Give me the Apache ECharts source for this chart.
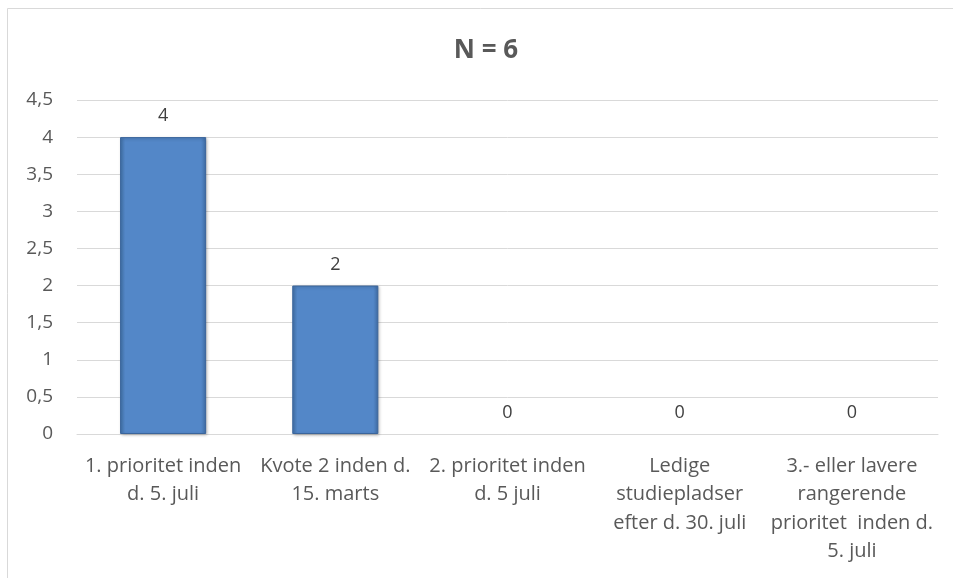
<!DOCTYPE html>
<html>
<head>
<meta charset="utf-8">
<script src="https://cdn.jsdelivr.net/npm/echarts@6/dist/echarts.min.js"></script>
<style>
html,body{margin:0;padding:0;background:#fff;}
#c{width:953px;height:578px;}
</style>
</head>
<body>
<div id="c"></div>
<script>
const categories = [
  "1. prioritet inden\nd. 5. juli",
  "Kvote 2 inden d.\n15. marts",
  "2. prioritet inden\nd. 5 juli",
  "Ledige\nstudiepladser\nefter d. 30. juli",
  "3.- eller lavere\nrangerende\nprioritet  inden d.\n5. juli"
];
const values = [4, 2, 0, 0, 0];
const titleText = "N = 6";
const yMin = 0, yMax = 4.5, yStep = 0.5;

const chart = echarts.init(document.getElementById('c'), null, {renderer: 'canvas'});
const font = '"Open Sans", "Noto Sans", sans-serif';
const seriesData = values.map(v => v === 0
  ? {value: v, itemStyle: {borderWidth: 0, shadowBlur: 0, shadowOffsetX: 0, shadowOffsetY: 0}}
  : v);
chart.setOption({
  animation: false,
  backgroundColor: '#fff',
  graphic: [{
    type: 'rect',
    shape: {x: 7.5, y: 8.5, width: 960, height: 600},
    style: {fill: 'none', stroke: '#d9d9d9', lineWidth: 1},
    silent: true
  }],
  title: {
    text: titleText,
    left: 481, top: 33, textAlign: 'center',
    textStyle: {fontFamily: font, fontSize: 26, fontWeight: 'bold', color: '#595959'}
  },
  grid: {left: 77, right: 15, top: 100, bottom: 144, containLabel: false},
  xAxis: {
    type: 'category',
    data: categories,
    axisLine: {show: true, lineStyle: {color: '#d9d9d9', width: 1}},
    axisTick: {show: false},
    axisLabel: {
      interval: 0, margin: 18, fontFamily: font, fontSize: 20, lineHeight: 28.5, color: '#595959'
    }
  },
  yAxis: {
    type: 'value',
    min: yMin, max: yMax, interval: yStep,
    axisLine: {show: false},
    axisTick: {show: false},
    splitLine: {lineStyle: {color: '#d9d9d9', width: 1}},
    axisLabel: {
      margin: 24, fontFamily: font, fontSize: 19, color: '#595959',
      formatter: v => String(v).replace('.', ',')
    }
  },
  series: [{
    type: 'bar',
    data: seriesData,
    barWidth: '50%',
    itemStyle: {
      color: new echarts.graphic.LinearGradient(0, 0, 1, 0, [
        {offset: 0, color: '#4474ad'},
        {offset: 0.06, color: '#5387c8'},
        {offset: 0.94, color: '#5387c8'},
        {offset: 1, color: '#3f6ca4'}
      ]),
      borderColor: '#3a659c',
      borderWidth: 1,
      shadowColor: 'rgba(0,0,0,0.25)',
      shadowBlur: 3,
      shadowOffsetX: 1,
      shadowOffsetY: 1
    },
    label: {
      show: true, position: 'top', distance: 12,
      fontFamily: font, fontSize: 18, color: '#404040'
    }
  }]
});
</script>
</body>
</html>
